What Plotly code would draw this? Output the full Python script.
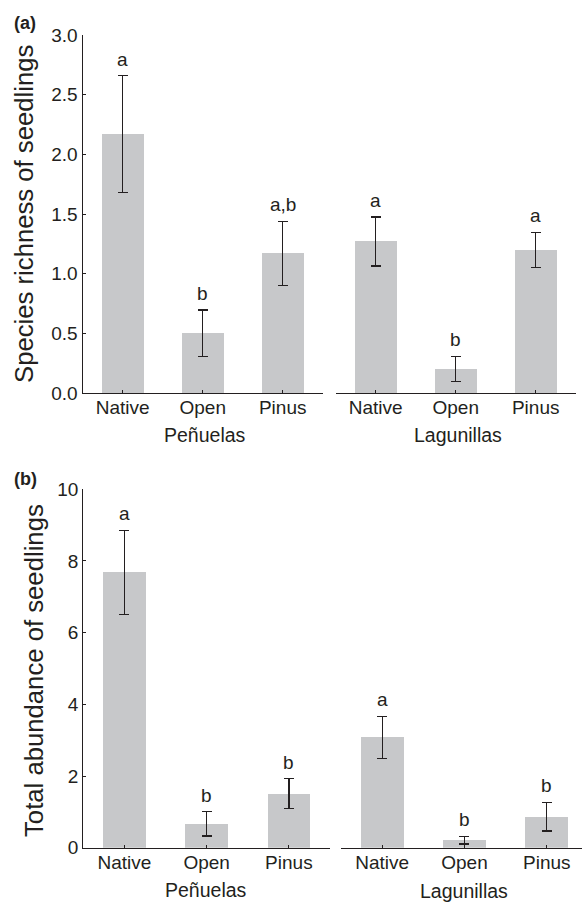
import plotly.graph_objects as go

W, H = 582, 902

categories = ["Native", "Open", "Pinus"]
sites = ["Peñuelas", "Lagunillas"]

# Panel (a): species richness
rich_pen = [2.17, 0.50, 1.17]
rich_pen_err = [0.49, 0.195, 0.27]
rich_pen_letters = ["a", "b", "a,b"]
rich_lag = [1.27, 0.20, 1.20]
rich_lag_err = [0.205, 0.106, 0.147]
rich_lag_letters = ["a", "b", "a"]

# Panel (b): total abundance
abun_pen = [7.68, 0.67, 1.51]
abun_pen_err = [1.18, 0.34, 0.42]
abun_pen_letters = ["a", "b", "b"]
abun_lag = [3.08, 0.21, 0.87]
abun_lag_err = [0.59, 0.11, 0.40]
abun_lag_letters = ["a", "b", "b"]

rich_ticks = [0.0, 0.5, 1.0, 1.5, 2.0, 2.5, 3.0]
rich_ticklabels = ["0.0", "0.5", "1.0", "1.5", "2.0", "2.5", "3.0"]
abun_ticks = [0, 2, 4, 6, 8, 10]
abun_ticklabels = ["0", "2", "4", "6", "8", "10"]

BAR = "#c7c8ca"
INK = "#231f20"
FONT = "Liberation Sans, Arial, sans-serif"

def px(x):
    return x / W

def py(y):
    return 1 - y / H

fig = go.Figure()

panels = [
    ("x", "y", rich_pen, rich_pen_err, rich_pen_letters),
    ("x2", "y", rich_lag, rich_lag_err, rich_lag_letters),
    ("x3", "y2", abun_pen, abun_pen_err, abun_pen_letters),
    ("x4", "y2", abun_lag, abun_lag_err, abun_lag_letters),
]

for xa, ya, vals, errs, letters in panels:
    fig.add_trace(go.Bar(
        x=categories, y=vals, xaxis=xa, yaxis=ya,
        marker=dict(color=BAR, line=dict(width=0)),
        width=0.52,
        error_y=dict(type="data", array=errs, visible=True,
                     color=INK, thickness=1.3, width=5),
        showlegend=False, hoverinfo="skip",
    ))
    for c, v, e, t in zip(categories, vals, errs, letters):
        fig.add_annotation(x=c, y=v + e, xref=xa, yref=ya, text=t,
                           showarrow=False, yanchor="bottom", yshift=4,
                           font=dict(size=19, color=INK, family=FONT))

axis_common = dict(showline=True, linecolor=INK, linewidth=1.2,
                   ticks="inside", ticklen=3, tickcolor=INK, tickwidth=1,
                   showgrid=False, zeroline=False, automargin=False,
                   tickfont=dict(size=19, color=INK, family=FONT))

xa_common = dict(axis_common, type="category", categoryorder="array",
                 categoryarray=categories, fixedrange=True,
                 ticklabelstandoff=-3)

fig.update_layout(
    width=W, height=H,
    margin=dict(l=0, r=0, t=0, b=0),
    paper_bgcolor="white", plot_bgcolor="white",
    bargap=0,
    xaxis=dict(xa_common, domain=[px(82.7), px(322.7)], range=[-0.5, 2.5], anchor="y"),
    xaxis2=dict(xa_common, domain=[px(335.7), px(575.7)], range=[-0.5, 2.5], anchor="y"),
    xaxis3=dict(xa_common, domain=[px(83.3), px(330)], range=[-0.5, 2.5], anchor="y2"),
    xaxis4=dict(xa_common, domain=[px(341), 1.0], range=[-0.5, -0.5 + 241 / 82.3], anchor="y2"),
    yaxis=dict(axis_common, domain=[py(393), py(35)], range=[0, 3], anchor="x",
               tickvals=rich_ticks, ticktext=rich_ticklabels, fixedrange=True),
    yaxis2=dict(axis_common, domain=[py(847.7), py(489.3)], range=[0, 10], anchor="x3",
                tickvals=abun_ticks, ticktext=abun_ticklabels, fixedrange=True),
)

# Site labels, y titles, panel labels
site_labels = [(205, 435, sites[0]), (458.3, 435, sites[1]),
               (206, 890, sites[0]), (464, 891, sites[1])]
for x, y, t in site_labels:
    fig.add_annotation(x=px(x), y=py(y), xref="paper", yref="paper", text=t,
                       showarrow=False, xanchor="center", yanchor="middle",
                       font=dict(size=19.5, color=INK, family=FONT))

fig.add_annotation(x=px(24), y=py(214), xref="paper", yref="paper",
                   text="Species richness of seedlings", textangle=-90,
                   showarrow=False, xanchor="center", yanchor="middle",
                   font=dict(size=25.7, color=INK, family=FONT))
fig.add_annotation(x=px(34), y=py(671), xref="paper", yref="paper",
                   text="Total abundance of seedlings", textangle=-90,
                   showarrow=False, xanchor="center", yanchor="middle",
                   font=dict(size=25.7, color=INK, family=FONT))

for x, y, t in [(25, 23, "(a)"), (25, 479, "(b)")]:
    fig.add_annotation(x=px(x), y=py(y), xref="paper", yref="paper",
                       text="<b>" + t + "</b>", showarrow=False,
                       xanchor="center", yanchor="middle",
                       font=dict(size=18, color=INK, family=FONT))

fig.write_html(
    "out.html",
    config={"displayModeBar": False, "staticPlot": True},
    post_script="document.body.style.margin='0';document.body.style.overflow='hidden';",
)
